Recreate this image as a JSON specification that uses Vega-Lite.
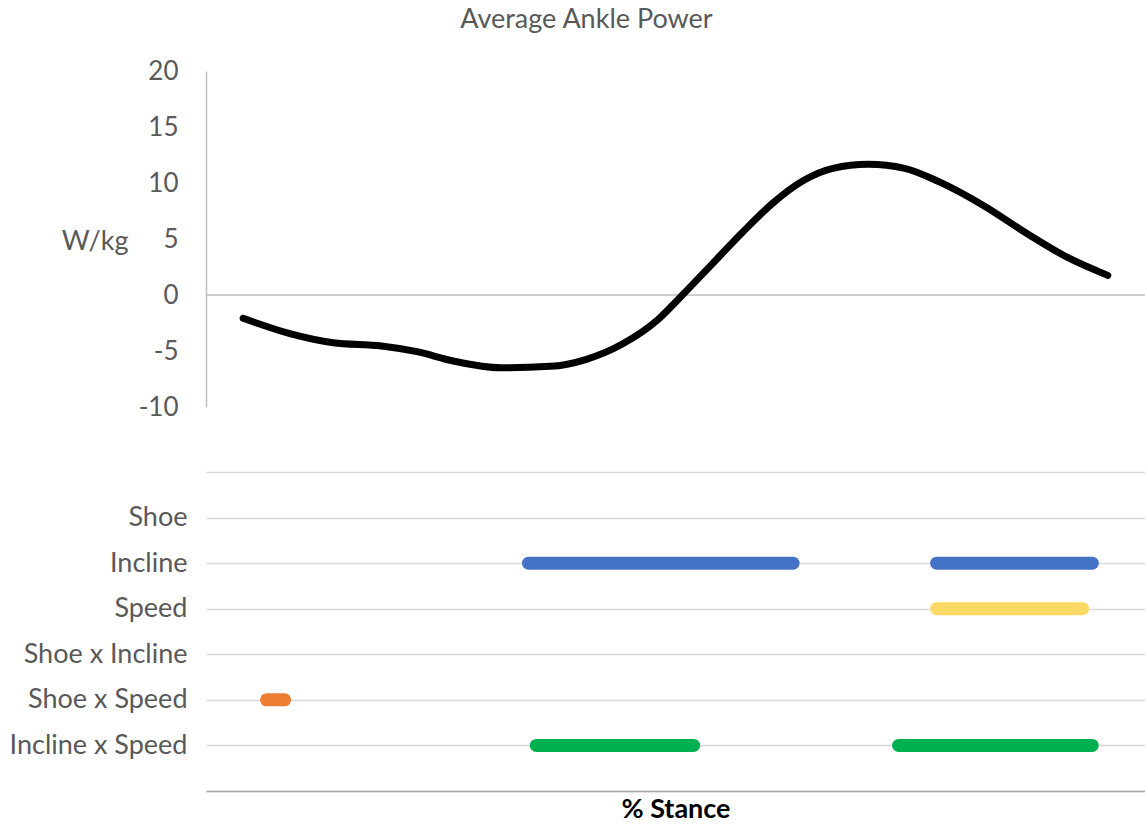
{
  "$schema": "https://vega.github.io/schema/vega-lite/v6.json",
  "background": "white",
  "padding": {"left": 9, "top": 6, "right": 0, "bottom": 0},
  "config": {"view": {"stroke": null}, "font": "Lato"},
  "title": {"text": "Average Ankle Power", "font": "Lato", "fontSize": 27, "fontWeight": "normal", "color": "#595959", "anchor": "middle", "offset": 24, "dx": 9},
  "bounds": "flush",
  "spacing": 65,
  "vconcat": [
    {
      "width": 939,
      "height": 336,
      "layer": [
        {
          "data": {"values": [{"level": 0}]},
          "mark": {"type": "rule", "color": "#bfbfbf", "strokeWidth": 1.5},
          "encoding": {"y": {"field": "level", "type": "quantitative"}}
        },
        {
          "data": {"values": [
            {"stance": 0, "power": -2.08},
            {"stance": 5.4, "power": -3.45},
            {"stance": 10.4, "power": -4.26},
            {"stance": 16.0, "power": -4.55},
            {"stance": 20.1, "power": -5.06},
            {"stance": 24.3, "power": -5.89},
            {"stance": 29.8, "power": -6.49},
            {"stance": 35.5, "power": -6.37},
            {"stance": 39.7, "power": -5.74},
            {"stance": 43.8, "power": -4.4},
            {"stance": 48.0, "power": -2.17},
            {"stance": 50.8, "power": 0},
            {"stance": 54.2, "power": 2.74},
            {"stance": 57.7, "power": 5.56},
            {"stance": 61.3, "power": 8.24},
            {"stance": 64.7, "power": 10.18},
            {"stance": 68.2, "power": 11.31},
            {"stance": 72.3, "power": 11.67},
            {"stance": 76.5, "power": 11.31},
            {"stance": 80.7, "power": 10.03},
            {"stance": 85.7, "power": 7.95},
            {"stance": 90.5, "power": 5.56},
            {"stance": 95.4, "power": 3.33},
            {"stance": 100, "power": 1.75}
          ]},
          "mark": {"type": "line", "color": "black", "strokeWidth": 7, "interpolate": "monotone", "strokeCap": "round"},
          "encoding": {
            "x": {"field": "stance", "type": "quantitative", "scale": {"domain": [-4.3, 104.3], "nice": false, "zero": false}, "axis": null},
            "y": {"field": "power", "type": "quantitative", "scale": {"domain": [-10, 20], "nice": false},
              "axis": {"title": "W/kg", "titleAngle": 0, "titleAlign": "right", "titleBaseline": "middle", "titleX": -78, "titleY": 170, "titleFont": "Lato", "titleFontSize": 27, "titleFontWeight": "normal", "titleColor": "#595959",
                "labelExpr": "'' + datum.value",
                "labelFont": "Lato", "labelFontSize": 26, "labelColor": "#595959", "labelPadding": 28, "ticks": false, "tickSize": 0, "grid": false, "domainColor": "#bfbfbf", "domainWidth": 1.5, "values": [-10, -5, 0, 5, 10, 15, 20]}}
          }
        }
      ]
    },
    {
      "width": 939,
      "height": 319,
      "data": {"values": [
        {"factor": "Incline", "start": 33.0, "end": 63.6},
        {"factor": "Incline", "start": 80.2, "end": 98.2},
        {"factor": "Speed", "start": 80.2, "end": 97.1},
        {"factor": "Shoe x Speed", "start": 2.7, "end": 4.8},
        {"factor": "Incline x Speed", "start": 33.9, "end": 52.1},
        {"factor": "Incline x Speed", "start": 75.8, "end": 98.2}
      ]},
      "mark": {"type": "rule", "strokeWidth": 13, "strokeCap": "round"},
      "encoding": {
        "x": {"field": "start", "type": "quantitative", "scale": {"domain": [-4.3, 104.3], "nice": false, "zero": false},
          "axis": {"title": "% Stance", "titleFont": "Lato", "titleFontWeight": "bold", "titleColor": "black", "titleFontSize": 27, "titlePadding": 5, "labels": false, "ticks": false, "tickSize": 0, "grid": false, "domainColor": "#a6a6a6", "domainWidth": 1.5}},
        "x2": {"field": "end"},
        "y": {"field": "factor", "type": "nominal",
          "scale": {"type": "point", "domain": ["", "Shoe", "Incline", "Speed", "Shoe x Incline", "Shoe x Speed", "Incline x Speed", " "], "padding": 0},
          "axis": {"title": null, "labelFont": "Lato", "labelFontSize": 27, "labelColor": "#595959", "labelPadding": 19, "ticks": false, "tickSize": 0, "domain": false, "grid": true, "gridColor": "#d9d9d9", "gridWidth": 1.5}},
        "color": {"field": "factor", "type": "nominal", "scale": {"domain": ["Incline", "Speed", "Shoe x Speed", "Incline x Speed"], "range": ["#4472C4", "#FFD966", "#ED7D31", "#00B050"]}, "legend": null}
      }
    }
  ]
}
